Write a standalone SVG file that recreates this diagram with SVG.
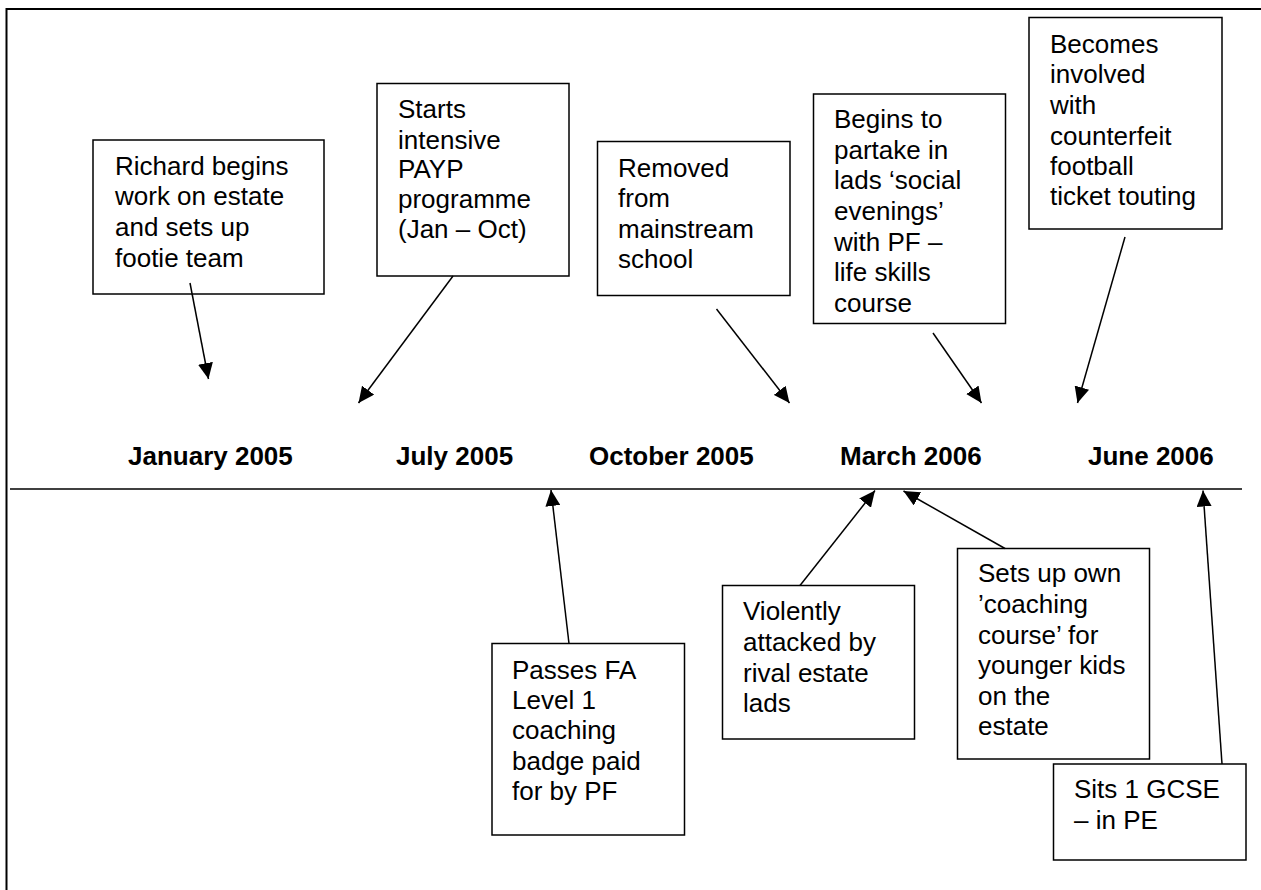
<svg xmlns="http://www.w3.org/2000/svg" width="1261" height="890" viewBox="0 0 1261 890">
<style>
  .box rect { fill: #fff; stroke: #000; stroke-width: 1.5; }
  .box text { font-family: "Liberation Sans", Arial, sans-serif; font-size: 26px; fill: #000; }
  .date { font-family: "Liberation Sans", Arial, sans-serif; font-size: 26px; font-weight: bold; fill: #000; }
  .conn line { stroke: #000; stroke-width: 1.5; marker-end: url(#ah); }
  .frame { stroke: #000; stroke-width: 2; fill: none; }
</style>
<defs>
  <marker id="ah" markerUnits="userSpaceOnUse" markerWidth="16" markerHeight="15" refX="16" refY="7.5" orient="auto">
    <path d="M0,0 L16,7.5 L0,15 z" fill="#000"/>
  </marker>
</defs>
<rect x="0" y="0" width="1261" height="890" fill="#fff"/>
<path class="frame" d="M6.5,890 L6.5,9 L1261,9"/>
<line x1="10" y1="489" x2="1242" y2="489" stroke="#000" stroke-width="1.5"/>

<g id="dates">
  <text class="date" x="128" y="465">January 2005</text>
  <text class="date" x="396" y="465">July 2005</text>
  <text class="date" x="589" y="465">October 2005</text>
  <text class="date" x="840" y="465">March 2006</text>
  <text class="date" x="1088" y="465">June 2006</text>
</g>

<g id="node-richard" class="box">
  <rect x="93" y="140" width="231" height="154"/>
  <text x="115" y="175">Richard begins</text>
  <text x="115" y="205">work on estate</text>
  <text x="115" y="236">and sets up</text>
  <text x="115" y="267">footie team</text>
</g>
<g id="node-starts" class="box">
  <rect x="377" y="83.5" width="192" height="192.5"/>
  <text x="398" y="118">Starts</text>
  <text x="398" y="149">intensive</text>
  <text x="398" y="178">PAYP</text>
  <text x="398" y="208">programme</text>
  <text x="398" y="238">(Jan – Oct)</text>
</g>
<g id="node-removed" class="box">
  <rect x="597.5" y="141.5" width="192.5" height="154"/>
  <text x="618" y="177">Removed</text>
  <text x="618" y="207">from</text>
  <text x="618" y="238">mainstream</text>
  <text x="618" y="268">school</text>
</g>
<g id="node-begins" class="box">
  <rect x="813.5" y="94" width="192" height="229.5"/>
  <text x="834" y="128">Begins to</text>
  <text x="834" y="159">partake in</text>
  <text x="834" y="189">lads ‘social</text>
  <text x="834" y="220">evenings’</text>
  <text x="834" y="251">with PF –</text>
  <text x="834" y="281">life skills</text>
  <text x="834" y="312">course</text>
</g>
<g id="node-becomes" class="box">
  <rect x="1029" y="17.5" width="193" height="211.5"/>
  <text x="1050" y="53">Becomes</text>
  <text x="1050" y="83">involved</text>
  <text x="1050" y="114">with</text>
  <text x="1050" y="145">counterfeit</text>
  <text x="1050" y="175">football</text>
  <text x="1050" y="205">ticket touting</text>
</g>
<g id="node-passes" class="box">
  <rect x="492" y="643.5" width="192.5" height="191.5"/>
  <text x="512" y="679">Passes FA</text>
  <text x="512" y="709">Level 1</text>
  <text x="512" y="739">coaching</text>
  <text x="512" y="770">badge paid</text>
  <text x="512" y="800">for by PF</text>
</g>
<g id="node-violently" class="box">
  <rect x="722.5" y="585.5" width="192" height="153.5"/>
  <text x="743" y="620">Violently</text>
  <text x="743" y="651">attacked by</text>
  <text x="743" y="682">rival estate</text>
  <text x="743" y="712">lads</text>
</g>
<g id="node-setsup" class="box">
  <rect x="957.5" y="548.5" width="192" height="210.5"/>
  <text x="978" y="582">Sets up own</text>
  <text x="978" y="613">’coaching</text>
  <text x="978" y="644">course’ for</text>
  <text x="978" y="674">younger kids</text>
  <text x="978" y="705">on the</text>
  <text x="978" y="735">estate</text>
</g>
<g id="node-sits" class="box">
  <rect x="1053.5" y="764" width="192.5" height="96"/>
  <text x="1074" y="798">Sits 1 GCSE</text>
  <text x="1074" y="829">– in PE</text>
</g>

<g id="connectors" class="conn">
  <line x1="190" y1="283" x2="208.5" y2="379"/>
  <line x1="453" y1="276" x2="358.5" y2="403"/>
  <line x1="716.5" y1="309" x2="789.5" y2="403"/>
  <line x1="933" y1="333" x2="981.5" y2="403"/>
  <line x1="1125" y1="237" x2="1077.5" y2="403"/>
  <line x1="569" y1="643.5" x2="551" y2="490"/>
  <line x1="800" y1="585.5" x2="875" y2="490.5"/>
  <line x1="1005" y1="548.5" x2="903.5" y2="491"/>
  <line x1="1222" y1="764" x2="1203" y2="490.5"/>
</g>
</svg>
